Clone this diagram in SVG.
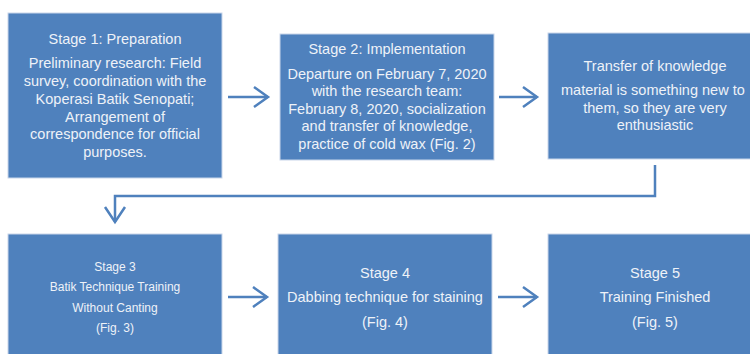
<svg xmlns="http://www.w3.org/2000/svg" width="750" height="354" viewBox="0 0 750 354">
<style>
.box{fill:#4F81BD;stroke:#C9D6EA;stroke-width:1}
.t{font-family:"Liberation Sans",Arial,sans-serif;font-size:14.5px;fill:#EEF2F8;text-anchor:middle}
.s{font-size:12px}
.c{fill:none;stroke:#4F81BD;stroke-width:2.5}
</style>
<rect width="750" height="354" fill="#fff"/>
<g id="connectors">
<line class="c" x1="228" y1="97" x2="268" y2="97"/>
<polyline class="c" points="254,87 268,97 254,107"/>
<line class="c" x1="499" y1="97" x2="537" y2="97"/>
<polyline class="c" points="523,87 537,97 523,107"/>
<polyline class="c" points="655,165 655,196 115,196 115,222"/>
<polyline class="c" points="105,207 115,222 125,207"/>
<line class="c" x1="228" y1="297" x2="267" y2="297"/>
<polyline class="c" points="253,287 267,297 253,307"/>
<line class="c" x1="498" y1="297" x2="537" y2="297"/>
<polyline class="c" points="523,287 537,297 523,307"/>
</g>
<g id="stage1">
<rect class="box" x="8" y="13" width="214" height="165"/>
<text class="t" x="115" y="44">Stage 1: Preparation</text>
<text class="t" x="115" y="68">Preliminary research: Field</text>
<text class="t" x="115" y="86">survey, coordination with the</text>
<text class="t" x="115" y="104">Koperasi Batik Senopati;</text>
<text class="t" x="115" y="122">Arrangement of</text>
<text class="t" x="115" y="139">correspondence for official</text>
<text class="t" x="115" y="157">purposes.</text>
</g>
<g id="stage2">
<rect class="box" x="280" y="34" width="214" height="126"/>
<text class="t" x="387" y="54">Stage 2: Implementation</text>
<text class="t" x="387" y="79">Departure on February 7, 2020</text>
<text class="t" x="387" y="96">with the research team:</text>
<text class="t" x="387" y="114">February 8, 2020, socialization</text>
<text class="t" x="387" y="131">and transfer of knowledge,</text>
<text class="t" x="387" y="149">practice of cold wax (Fig. 2)</text>
</g>
<g id="transfer">
<rect class="box" x="548" y="33" width="210" height="126"/>
<text class="t" x="655" y="71">Transfer of knowledge</text>
<text class="t" x="561" y="95" style="text-anchor:start">material is something new to</text>
<text class="t" x="655" y="113">them, so they are very</text>
<text class="t" x="655" y="130">enthusiastic</text>
</g>
<g id="stage3">
<rect class="box" x="8" y="234" width="214" height="130"/>
<text class="t s" x="115" y="271">Stage 3</text>
<text class="t s" x="115" y="291">Batik Technique Training</text>
<text class="t s" x="115" y="312">Without Canting</text>
<text class="t s" x="115" y="332">(Fig. 3)</text>
</g>
<g id="stage4">
<rect class="box" x="278" y="234" width="214" height="130"/>
<text class="t" x="385" y="278">Stage 4</text>
<text class="t" x="385" y="302">Dabbing technique for staining</text>
<text class="t" x="385" y="327">(Fig. 4)</text>
</g>
<g id="stage5">
<rect class="box" x="548" y="234" width="210" height="130"/>
<text class="t" x="655" y="278">Stage 5</text>
<text class="t" x="655" y="302">Training Finished</text>
<text class="t" x="655" y="327">(Fig. 5)</text>
</g>
</svg>
